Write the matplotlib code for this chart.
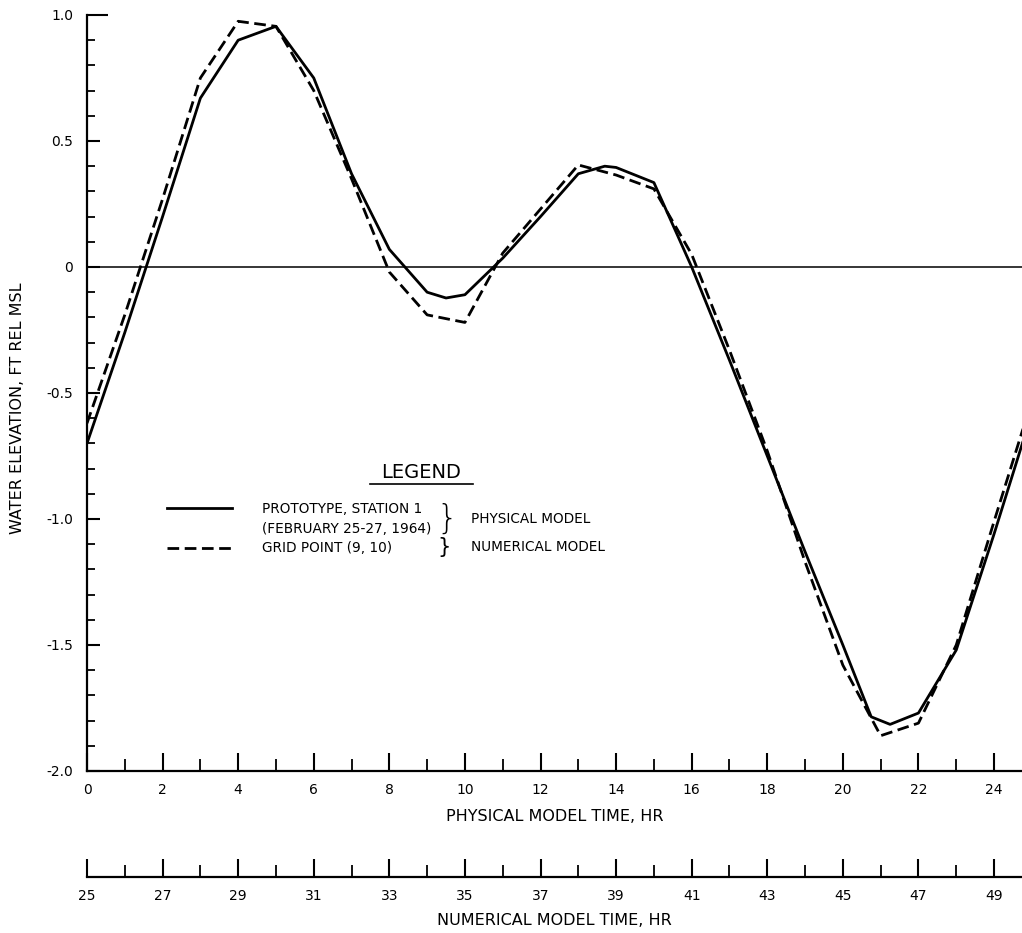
import matplotlib
matplotlib.use("Agg")
import matplotlib.pyplot as plt
from matplotlib.lines import Line2D
from matplotlib.ticker import MultipleLocator, FixedLocator, FixedFormatter

plt.rcParams['font.family'] = ['DejaVu Sans']

# ---- data ----
t_proto = [0, 1, 2, 3, 4, 5, 6, 7, 8, 9, 9.5, 10, 11, 12, 13, 13.7, 14, 15,
           16, 17, 18, 19, 20, 20.75, 21.25, 22, 23, 24, 25]
elev_proto = [-0.70, -0.26, 0.20, 0.67, 0.90, 0.955, 0.75, 0.37, 0.07, -0.10,
              -0.123, -0.11, 0.035, 0.20, 0.37, 0.40, 0.395, 0.335,
              0.0, -0.37, -0.75, -1.13, -1.50, -1.785, -1.815, -1.77, -1.52,
              -1.06, -0.58]

t_grid = [0, 1, 2, 3, 4, 5, 6, 7, 8, 9, 10, 11, 12, 13, 14, 15, 16, 17, 18,
          19, 20, 21, 22, 23, 24, 25]
elev_grid = [-0.62, -0.19, 0.27, 0.75, 0.975, 0.955, 0.70, 0.35, -0.02, -0.19,
             -0.22, 0.055, 0.23, 0.405, 0.365, 0.31, 0.05, -0.33, -0.73,
             -1.17, -1.58, -1.86, -1.81, -1.50, -1.01, -0.53]

y_ticks = [-2.0, -1.5, -1.0, -0.5, 0.0, 0.5, 1.0]
y_tick_labels = ['-2.0', '-1.5', '-1.0', '-0.5', '0', '0.5', '1.0']
x_ticks = list(range(0, 25, 2))
num_offset = 25  # numerical model time = physical model time + 25 hr
num_ticks = list(range(25, 50, 2))

label_proto = ['PROTOTYPE, STATION 1', '(FEBRUARY 25-27, 1964)']
label_grid = 'GRID POINT (9, 10)'

# ---- figure ----
W, H = 1022, 933
fig = plt.figure(figsize=(W / 100, H / 100), dpi=100)
ax = fig.add_axes([87 / W, (H - 771) / H, 935 / W, 756 / H])

lw = 2.0
dash = (0, (4.2, 2.0))
ax.axhline(0, color='black', lw=1.1, zorder=1)
ax.plot(t_proto, elev_proto, color='black', lw=lw, solid_joinstyle='round',
        solid_capstyle='round', zorder=3)
ax.plot(t_grid, elev_grid, color='black', lw=lw, linestyle=dash,
        dash_joinstyle='round', zorder=3)

ax.set_xlim(0, 24.74)
ax.set_ylim(-2.0, 1.0)

for s in ['top', 'right']:
    ax.spines[s].set_visible(False)
for s in ['left', 'bottom']:
    ax.spines[s].set_linewidth(1.6)

ax.yaxis.set_major_locator(FixedLocator(y_ticks))
ax.yaxis.set_major_formatter(FixedFormatter(y_tick_labels))
ax.yaxis.set_minor_locator(MultipleLocator(0.1))
ax.xaxis.set_major_locator(FixedLocator(x_ticks))
ax.xaxis.set_minor_locator(MultipleLocator(1))

ax.tick_params(axis='y', which='major', direction='in', length=9, width=1.5,
               labelsize=10, pad=10)
ax.tick_params(axis='y', which='minor', direction='in', length=6, width=1.3)
ax.tick_params(axis='x', which='major', direction='in', length=13, width=1.5,
               labelsize=10, pad=9)
ax.tick_params(axis='x', which='minor', direction='in', length=8.5, width=1.3)
# top (1.0) tick drawn longer, as in the reference
ax.yaxis.get_major_ticks()[-1].tick1line.set_markersize(15)

ax.set_xlabel('PHYSICAL MODEL TIME, HR', fontsize=11.5, labelpad=8)
ax.set_ylabel('WATER ELEVATION, FT REL MSL', fontsize=11.5)
ax.yaxis.set_label_coords(-0.066, 0.48)

# ---- second (numerical model) time axis ----
sec = ax.secondary_xaxis(-(877 - 771) / 756,
                         functions=(lambda t: t + num_offset,
                                    lambda t: t - num_offset))
sec.xaxis.set_major_locator(FixedLocator(num_ticks))
sec.xaxis.set_minor_locator(MultipleLocator(1))
sec.spines['bottom'].set_linewidth(1.6)
sec.tick_params(axis='x', which='major', direction='in', length=13, width=1.5,
                labelsize=10, pad=9)
sec.tick_params(axis='x', which='minor', direction='in', length=8.5, width=1.3)
sec.set_xlabel('NUMERICAL MODEL TIME, HR', fontsize=11.5, labelpad=7)

# ---- legend ----
fs = 9.8
handles = [Line2D([], [], color='black', lw=lw),
           Line2D([], [], color='none', lw=lw),
           Line2D([], [], color='black', lw=lw, linestyle=dash)]
leg = ax.legend(handles, [label_proto[0], label_proto[1], label_grid],
                loc='upper left', bbox_to_anchor=(0.0856, 0.3555),
                frameon=False, fontsize=fs, handlelength=4.78,
                handletextpad=2.2, labelspacing=0.41, borderpad=0,
                borderaxespad=0)

ax.text(0.357, 0.3955, 'LEGEND', transform=ax.transAxes, fontsize=14,
        ha='center', va='center')
ax.add_line(Line2D([0.303, 0.413], [0.380, 0.380], transform=ax.transAxes,
                   color='black', lw=1.2))
ax.text(0.385, 0.3335, '}', transform=ax.transAxes, fontsize=24,
        ha='center', va='center', fontweight='light')
ax.text(0.4107, 0.3333, 'PHYSICAL MODEL', transform=ax.transAxes,
        fontsize=fs, ha='left', va='center')
ax.text(0.3815, 0.2963, '}', transform=ax.transAxes, fontsize=15,
        ha='center', va='center')
ax.text(0.4107, 0.2963, 'NUMERICAL MODEL', transform=ax.transAxes,
        fontsize=fs, ha='left', va='center')

fig.savefig('out.png', dpi=100, facecolor='white')
